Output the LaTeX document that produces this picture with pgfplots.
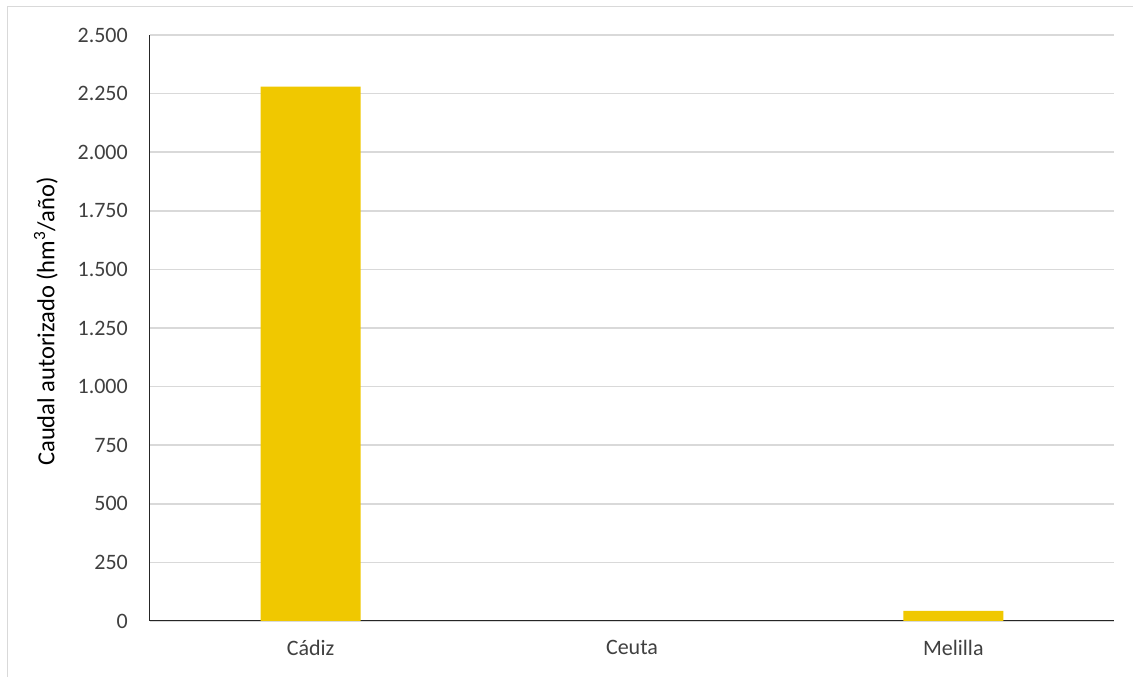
\documentclass[border=0pt]{standalone}
\usepackage{pgfplots}
\pgfplotsset{compat=1.18}
\usepackage{fontspec}
\setmainfont{Carlito}
\definecolor{barc}{HTML}{F0C800}
\definecolor{gridc}{HTML}{D9D9D9}
\definecolor{txt}{HTML}{404040}
\definecolor{axc}{HTML}{262626}
\begin{document}
\fontsize{22}{26}\selectfont
\begin{tikzpicture}[x=1pt,y=1pt]
\useasboundingbox (-150,-56) rectangle (983,621);
\fill[white] (-150,-56) rectangle (983,621);
\draw[gridc, line width=1.5pt] (-142.5,-56) -- (-142.5,614.5) -- (983,614.5);
\begin{axis}[
  at={(0,0)}, anchor=south west,
  scale only axis,
  width=964pt, height=586pt,
  xmin=-0.5, xmax=2.5,
  ymin=0, ymax=2500,
  ytick={0,250,...,2500},
  xtick={0,1,2},
  xticklabels={Cádiz,Ceuta,Melilla},
  major tick length=0pt,
  axis x line*=bottom,
  axis y line*=left,
  axis line style={axc, line width=1pt},
  ymajorgrids,
  grid style={gridc, line width=1.5pt},
  ybar, bar width=100pt,
  /pgf/number format/.cd, 1000 sep={.}, assume math mode=true,
  /pgfplots/.cd,
  tick label style={font=\fontsize{22}{26}\selectfont, text=txt},
  yticklabel style={inner sep=0pt, xshift=-22pt},
  xticklabel style={inner sep=0pt, yshift=-19pt},
  ylabel={Caudal autorizado (hm\textsuperscript{3}/año)},
  ylabel style={font=\fontsize{24.5}{28}\selectfont, text=black, at={(axis description cs:-0.108,0.511)}, anchor=center},
  clip=false,
]
% Ceuta: 0 (no visible bar)
\addplot[fill=barc, draw=none] coordinates {(0,2280) (2,43)};
\end{axis}
\end{tikzpicture}
\end{document}
